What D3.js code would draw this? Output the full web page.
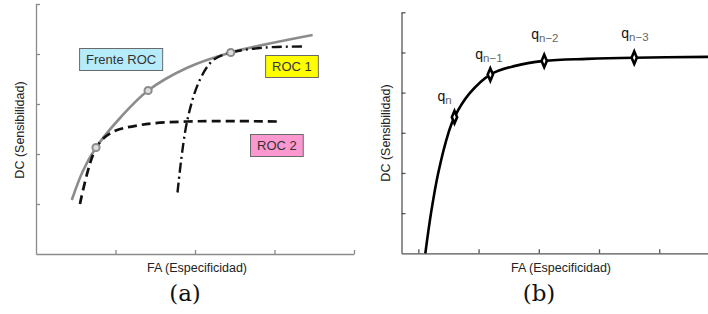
<!DOCTYPE html>
<html>
<head>
<meta charset="utf-8">
<script src="https://d3js.org/d3.v7.min.js"></script>
<style>
    body { margin: 0; background: white; }
    svg { display: block; }
    text { font-family: "Liberation Sans", Arial, sans-serif; }
    .caption { font-family: "DejaVu Serif", "Liberation Serif", serif; }
</style>
</head>
<body>
<div id="chart"></div>
<script>
    // panel (a): ROC front and two ROC curves
    let frontX = [0.45, 0.59, 0.755, 1.057, 1.41, 1.896, 2.45, 3.0, 3.48];
    let frontY = [1.08, 1.66, 2.13, 2.72, 3.27, 3.72, 4.03, 4.23, 4.38];
    let frontMarksX = [0.755, 1.41, 2.45];
    let frontMarksY = [2.13, 3.27, 4.03];

    let roc2X = [0.553, 0.755, 0.94, 1.31, 1.9, 3.04];
    let roc2Y = [1.0, 2.12, 2.42, 2.58, 2.65, 2.65];

    let roc1X = [1.78, 1.9, 2.06, 2.23, 2.45, 2.9, 3.38];
    let roc1Y = [1.23, 2.65, 3.48, 3.88, 4.03, 4.13, 4.15];

    let boxLabels = ["Frente ROC", "ROC 1", "ROC 2"];
    let boxColors = ["#b6ebfa", "#ffff00", "#fb98cf"];
    let boxX = [0.63, 2.97, 2.78];
    let boxY = [3.80, 3.66, 2.08];

    // panel (b): front of operating points q
    let curveX = [0.116, 0.21, 0.33, 0.50, 0.60, 0.85, 1.195, 1.59, 2.09, 2.8, 3.585, 4.81];
    let curveY = [0.0, 1.0, 2.0, 3.0, 3.39, 3.98, 4.45, 4.66, 4.79, 4.84, 4.87, 4.89];
    let qX = [0.60, 1.195, 2.09, 3.585];
    let qY = [3.39, 4.45, 4.79, 4.87];
    let qSubs = ["n", "n\u22121", "n\u22122", "n\u22123"];

    let svg = d3.select("#chart").append("svg")
        .attr("width", 708)
        .attr("height", 314);

    function drawAxes(g, x, y, xTicks, yTicks, color, xLabelX, yLabelY, caption, captionX) {
        g.append("g")
            .attr("transform", "translate(0," + y.range()[0] + ")")
            .call(d3.axisBottom(x).tickValues(xTicks).tickSize(-4).tickSizeOuter(0).tickFormat(""))
            .call(a => a.selectAll("line, path").attr("stroke", color).attr("stroke-width", 1.3));

        g.append("g")
            .attr("transform", "translate(" + x.range()[0] + ",0)")
            .call(d3.axisLeft(y).tickValues(yTicks).tickSize(-4).tickSizeOuter(0).tickFormat(""))
            .call(a => a.selectAll("line, path").attr("stroke", color).attr("stroke-width", 1.3));

        g.append("text")
            .attr("x", xLabelX)
            .attr("y", 272)
            .attr("text-anchor", "middle")
            .attr("font-size", 12.5)
            .attr("fill", "#222")
            .text("FA (Especificidad)");

        g.append("text")
            .attr("transform", "translate(" + (x.range()[0] - 12) + "," + yLabelY + ") rotate(-90)")
            .attr("text-anchor", "middle")
            .attr("font-size", 12.5)
            .attr("fill", "#222")
            .text("DC (Sensibilidad)");

        g.append("text")
            .attr("class", "caption")
            .attr("x", captionX)
            .attr("y", 301)
            .attr("text-anchor", "middle")
            .attr("font-size", 23)
            .attr("fill", "#111")
            .text(caption);
    }

    // ---------- panel (a) ----------
    let xa = d3.scaleLinear().domain([0, 4]).range([36, 354]);
    let ya = d3.scaleLinear().domain([0, 5]).range([254, 4]);
    let ga = svg.append("g");

    drawAxes(ga, xa, ya, [1, 2, 3, 4], [1, 2, 3, 4, 5], "#8a8a8a", 197, 130, "(a)", 185);

    let lineA = d3.line()
        .x(d => xa(d[0]))
        .y(d => ya(d[1]))
        .curve(d3.curveCatmullRom);

    ga.append("path")
        .attr("d", lineA(d3.zip(frontX, frontY)))
        .attr("fill", "none")
        .attr("stroke", "#8c8c8c")
        .attr("stroke-width", 2.6);

    ga.append("path")
        .attr("d", lineA(d3.zip(roc2X, roc2Y)))
        .attr("fill", "none")
        .attr("stroke", "#111")
        .attr("stroke-width", 2.7)
        .attr("stroke-dasharray", "9,5");

    ga.append("path")
        .attr("d", lineA(d3.zip(roc1X, roc1Y)))
        .attr("fill", "none")
        .attr("stroke", "#111")
        .attr("stroke-width", 2.4)
        .attr("stroke-dasharray", "10,4,2,4");

    ga.selectAll("circle.mark")
        .data(d3.zip(frontMarksX, frontMarksY))
        .join("circle")
        .attr("class", "mark")
        .attr("cx", d => xa(d[0]))
        .attr("cy", d => ya(d[1]))
        .attr("r", 3.6)
        .attr("fill", "#ddd")
        .attr("stroke", "#8c8c8c")
        .attr("stroke-width", 2);

    let boxes = ga.selectAll("g.box")
        .data(boxLabels)
        .join("g")
        .attr("class", "box")
        .attr("transform", (d, i) => "translate(" + xa(boxX[i]) + "," + ya(boxY[i]) + ")");

    boxes.append("text")
        .attr("x", 0)
        .attr("y", 0)
        .attr("font-size", 13)
        .attr("fill", "#333")
        .text(d => d);

    boxes.each(function (d, i) {
        let g = d3.select(this);
        let bb = g.select("text").node().getBBox();
        g.insert("rect", "text")
            .attr("x", bb.x - 6.5)
            .attr("y", bb.y - 3.5)
            .attr("width", bb.width + 13)
            .attr("height", bb.height + 7)
            .attr("fill", boxColors[i])
            .attr("stroke", "#6a6a6a")
            .attr("stroke-width", 1);
    });

    // ---------- panel (b) ----------
    let xb = d3.scaleLinear().domain([-0.28, 4.81]).range([401.5, 708]);
    let yb = d3.scaleLinear().domain([0, 6]).range([253.3, 12.3]);
    let gb = svg.append("g");

    drawAxes(gb, xb, yb, [0, 1, 2, 3, 4], [1, 2, 3, 4, 5, 6], "#555", 561, 133, "(b)", 539);

    gb.append("path")
        .attr("d", d3.line().x(d => xb(d[0])).y(d => yb(d[1])).curve(d3.curveCatmullRom)(d3.zip(curveX, curveY)))
        .attr("fill", "none")
        .attr("stroke", "#000")
        .attr("stroke-width", 2.6);

    gb.selectAll("path.diamond")
        .data(d3.zip(qX, qY))
        .join("path")
        .attr("class", "diamond")
        .attr("transform", d => "translate(" + xb(d[0]) + "," + yb(d[1]) + ") scale(0.8,1.1)")
        .attr("d", d3.symbol(d3.symbolDiamond, 38)())
        .attr("fill", "#fff")
        .attr("stroke", "#000")
        .attr("stroke-width", 3);

    let qOffX = [-17, -15, -13, -13];
    let qOffY = [-16, -16, -22, -20];

    let qLabels = gb.selectAll("text.q")
        .data(qSubs)
        .join("text")
        .attr("class", "q")
        .attr("x", (d, i) => xb(qX[i]) + qOffX[i])
        .attr("y", (d, i) => yb(qY[i]) + qOffY[i])
        .attr("font-size", 14)
        .attr("fill", "#111");

    qLabels.append("tspan").text("q");
    qLabels.append("tspan")
        .attr("dy", 3)
        .attr("font-size", 11.5)
        .attr("fill", "#666")
        .text(d => d);
</script>
</body>
</html>
